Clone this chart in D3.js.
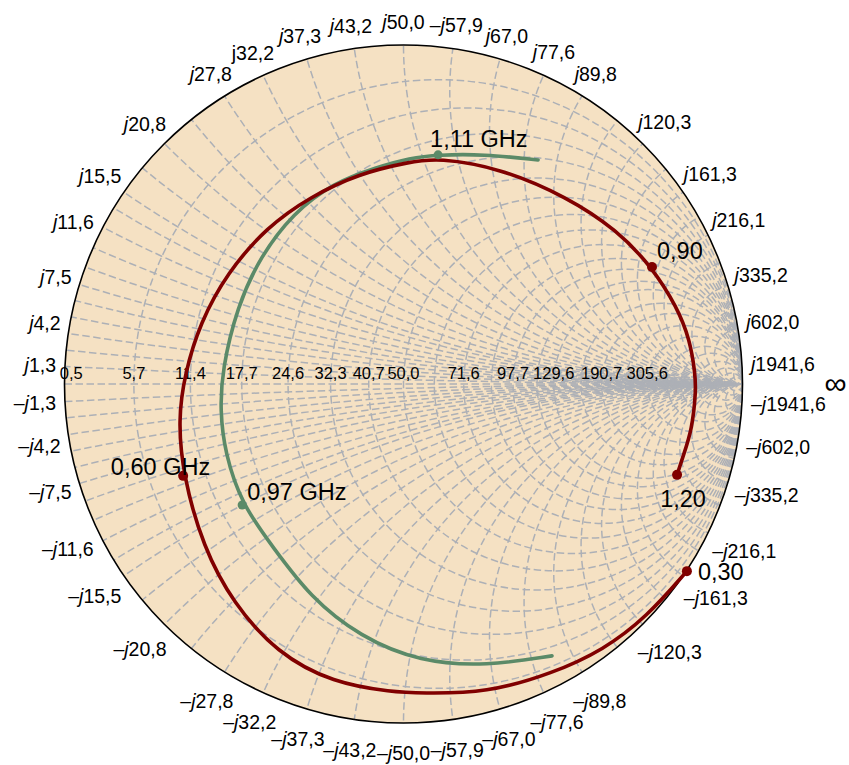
<!DOCTYPE html>
<html>
<head>
<meta charset="utf-8">
<script src="https://cdn.jsdelivr.net/npm/d3@7"></script>
<style>
  body { margin: 0; background: #ffffff; }
  svg { display: block; font-family: "Liberation Sans", Arial, sans-serif; }
</style>
</head>
<body>
<svg id="chart" width="849" height="765"></svg>
<script>
// Reference impedance (ohms)
const Z0 = 50;

// Resistance labels along the real axis (ohms)
const resistanceTicks = [0.5, 5.7, 11.4, 17.7, 24.6, 32.3, 40.7, 50.0, 71.6, 97.7, 129.6, 190.7, 305.6];

// Reactance labels around the rim (ohms) and their texts
const reactanceTicks = [1.3, 4.2, 7.5, 11.6, 15.5, 20.8, 27.8, 32.2, 37.3, 43.2, 50.0,
                        57.9, 67.0, 77.6, 89.8, 120.3, 161.3, 216.1, 335.2, 602.0, 1941.6];
const upperLabels = ["j1,3", "j4,2", "j7,5", "j11,6", "j15,5", "j20,8", "j27,8", "j32,2", "j37,3", "j43,2", "j50,0",
                     "–j57,9", "j67,0", "j77,6", "j89,8", "j120,3", "j161,3", "j216,1", "j335,2", "j602,0", "j1941,6"];
const lowerLabels = ["–j1,3", "–j4,2", "–j7,5", "–j11,6", "–j15,5", "–j20,8", "–j27,8", "–j32,2", "–j37,3", "–j43,2", "–j50,0",
                     "–j57,9", "–j67,0", "–j77,6", "–j89,8", "–j120,3", "–j161,3", "–j216,1", "–j335,2", "–j602,0", "–j1941,6"];
const uprightJ = ["j32,2"];

// Grid: normalized constant-resistance circles and constant-reactance arcs
const gridR = [0.114, 0.228, 0.354, 0.492, 0.646, 0.814, 1, 1.2, 1.432, 1.7, 1.954, 2.3, 2.592,
               3.2, 3.814, 4.8, 6.112, 8, 10, 14, 20, 30, 50];
const gridX = [0.026, 0.05, 0.075, 0.1, 0.125, 0.15, 0.178, 0.21, 0.245, 0.28, 0.31, 0.36, 0.416,
               0.48, 0.556, 0.644, 0.746, 0.864, 1, 1.158, 1.34, 1.552, 1.796, 2.1, 2.406, 2.8,
               3.226, 3.8, 4.322, 5.4, 6.704, 9, 12.04, 20, 38.8];

// Trace 1 (0.30 - 1.20 GHz), reflection coefficient
const trace1Re = [0.836, 0.718, 0.589, 0.441, 0.246, 0.049, -0.031, -0.208, -0.373, -0.503, -0.591, -0.650,
                  -0.665, -0.645, -0.600, -0.521, -0.403, -0.276, -0.128, 0.019, 0.102, 0.285, 0.482,
                  0.630, 0.733, 0.807, 0.845, 0.860, 0.863, 0.851, 0.824, 0.807];
const trace1Im = [-0.552, -0.687, -0.785, -0.853, -0.912, -0.912, -0.909, -0.882, -0.794, -0.646, -0.481, -0.271,
                  -0.106, 0.032, 0.180, 0.327, 0.463, 0.552, 0.622, 0.655, 0.667, 0.637, 0.552,
                  0.454, 0.345, 0.227, 0.130, 0.032, -0.018, -0.136, -0.215, -0.268];
const trace1MarkFreq = [0.30, 0.60, 0.90, 1.20];
const trace1MarkRe = [0.836, -0.650, 0.733, 0.807];
const trace1MarkIm = [-0.552, -0.271, 0.345, -0.268];
const trace1MarkText = ["0,30", "0,60 GHz", "0,90", "1,20"];

// Trace 2, reflection coefficient
const trace2Re = [0.438, 0.246, 0.049, -0.128, -0.276, -0.385, -0.476, -0.527, -0.541, -0.535,
                  -0.491, -0.423, -0.326, -0.208, -0.078, 0.019, 0.102, 0.235, 0.397];
const trace2Im = [-0.802, -0.832, -0.820, -0.746, -0.628, -0.481, -0.357, -0.204, -0.077, 0.041,
                  0.227, 0.375, 0.504, 0.593, 0.640, 0.667, 0.676, 0.678, 0.661];
const trace2MarkFreq = [0.97, 1.11];
const trace2MarkRe = [-0.476, 0.102];
const trace2MarkIm = [-0.357, 0.676];
const trace2MarkText = ["0,97 GHz", "1,11 GHz"];

// ---------------------------------------------------------------------------
const svg = d3.select("#chart");
const cx = 403.5, cy = 384, R = 339;
const sx = d3.scaleLinear().domain([-1, 1]).range([cx - R, cx + R]);
const sy = d3.scaleLinear().domain([-1, 1]).range([cy + R, cy - R]);

const gamma = (r, x) => {
  const d = (r + 1) * (r + 1) + x * x;
  return [(r * r - 1 + x * x) / d, (2 * x) / d];
};
const fmt = v => v.toFixed(1).replace(".", ",");

const colors = { bg: "#f5e1c3", grid: "#adb0b6", t1: "#800000", t2: "#5b8a68" };

svg.append("defs").append("clipPath").attr("id", "unit")
  .append("circle").attr("cx", sx(0)).attr("cy", sy(0)).attr("r", sx(1) - sx(0));

svg.append("circle").attr("cx", sx(0)).attr("cy", sy(0)).attr("r", sx(1) - sx(0))
  .attr("fill", colors.bg);

const grid = svg.append("g").attr("clip-path", "url(#unit)")
  .attr("fill", "none").attr("stroke", colors.grid)
  .attr("stroke-width", 1.5).attr("stroke-dasharray", "7.5,3.5");

// constant-resistance circles
grid.selectAll("circle.r").data(gridR).join("circle").attr("class", "r")
  .attr("cx", r => sx(r / (1 + r)))
  .attr("cy", sy(0))
  .attr("r", r => sx(1 / (1 + r)) - sx(0));

// constant-reactance arcs (both signs)
const xs = gridX.flatMap(x => [x, -x]);
grid.selectAll("circle.x").data(xs).join("circle").attr("class", "x")
  .attr("cx", sx(1))
  .attr("cy", x => sy(1 / x))
  .attr("r", x => sx(1 / Math.abs(x)) - sx(0));

// real axis
grid.append("line").attr("x1", sx(-1)).attr("x2", sx(1)).attr("y1", sy(0)).attr("y2", sy(0));

// rim
svg.append("circle").attr("cx", sx(0)).attr("cy", sy(0)).attr("r", sx(1) - sx(0))
  .attr("fill", "none").attr("stroke", "#000").attr("stroke-width", 1.6);

// resistance labels
svg.append("g").selectAll("text").data(resistanceTicks).join("text")
  .attr("x", v => sx(gamma(v / Z0, 0)[0]))
  .attr("y", sy(0) - 5)
  .attr("text-anchor", "middle")
  .attr("font-size", 16.5)
  .attr("fill", "#000")
  .text(fmt);

// reactance labels around the rim
const rimFont = 19.5;
function rimLabel(g, label, value, sign) {
  const [gr, gi] = gamma(0, sign * value / Z0);
  const phi = Math.atan2(gi, gr);
  const t = g.append("text").attr("font-size", rimFont).attr("fill", "#000")
    .attr("text-anchor", "middle");
  let rest = label;
  if (rest.startsWith("–")) { t.append("tspan").text("–"); rest = rest.slice(1); }
  t.append("tspan").attr("font-style", uprightJ.includes(label) ? "normal" : "italic").text("j");
  t.append("tspan").text(rest.slice(1));
  const w = t.node().getComputedTextLength();
  const h = 18;
  const s = Math.sin(phi);
  const pad = 9 + (s > 0 ? 5 : 12) * s * s;
  const rho = (sx(1) - sx(0)) + pad +
    Math.hypot(Math.cos(phi) * w / 2, s * h / 2);
  const px = sx(0) + rho * Math.cos(phi);
  const py = sy(0) - rho * s;
  t.attr("x", px).attr("y", py + 0.36 * rimFont);
}
const rim = svg.append("g");
reactanceTicks.forEach((v, i) => {
  rimLabel(rim, upperLabels[i], v, 1);
  rimLabel(rim, lowerLabels[i], v, -1);
});

// infinity symbol at the open-circuit end
svg.append("text").attr("x", sx(1) + 82).attr("y", sy(0) + 10)
  .attr("font-size", 31).attr("fill", "#000").text("∞");

// traces
const line = d3.line().x(d => sx(d[0])).y(d => sy(d[1])).curve(d3.curveBasis);
const zip = (a, b) => a.map((v, i) => [v, b[i]]);

svg.append("path").datum(zip(trace2Re, trace2Im)).attr("d", line)
  .attr("fill", "none").attr("stroke", colors.t2).attr("stroke-width", 3.6)
  .attr("stroke-linecap", "round");
svg.append("path").datum(zip(trace1Re, trace1Im)).attr("d", line)
  .attr("fill", "none").attr("stroke", colors.t1).attr("stroke-width", 3.6)
  .attr("stroke-linecap", "round");

// markers and their annotations (offsets are label placement)
const t1Place = [
  { dx: 11, dy: 9, anchor: "start" },
  { dx: 27, dy: -1, anchor: "end" },
  { dx: 5, dy: -8, anchor: "start" },
  { dx: 6, dy: 32, anchor: "middle" }
];
const t2Place = [
  { dx: 5, dy: -5, anchor: "start" },
  { dx: -8, dy: -8, anchor: "start" }
];
function markers(re, im, texts, place, color, rad) {
  const g = svg.append("g");
  g.selectAll("circle").data(re).join("circle")
    .attr("cx", (d, i) => sx(re[i])).attr("cy", (d, i) => sy(im[i]))
    .attr("r", rad).attr("fill", color);
  g.selectAll("text").data(texts).join("text")
    .attr("x", (d, i) => sx(re[i]) + place[i].dx)
    .attr("y", (d, i) => sy(im[i]) + place[i].dy)
    .attr("text-anchor", (d, i) => place[i].anchor)
    .attr("font-size", 23.5).attr("fill", "#000")
    .text(d => d);
}
markers(trace2MarkRe, trace2MarkIm, trace2MarkText, t2Place, colors.t2, 4.5);
markers(trace1MarkRe, trace1MarkIm, trace1MarkText, t1Place, colors.t1, 5);
</script>
</body>
</html>
